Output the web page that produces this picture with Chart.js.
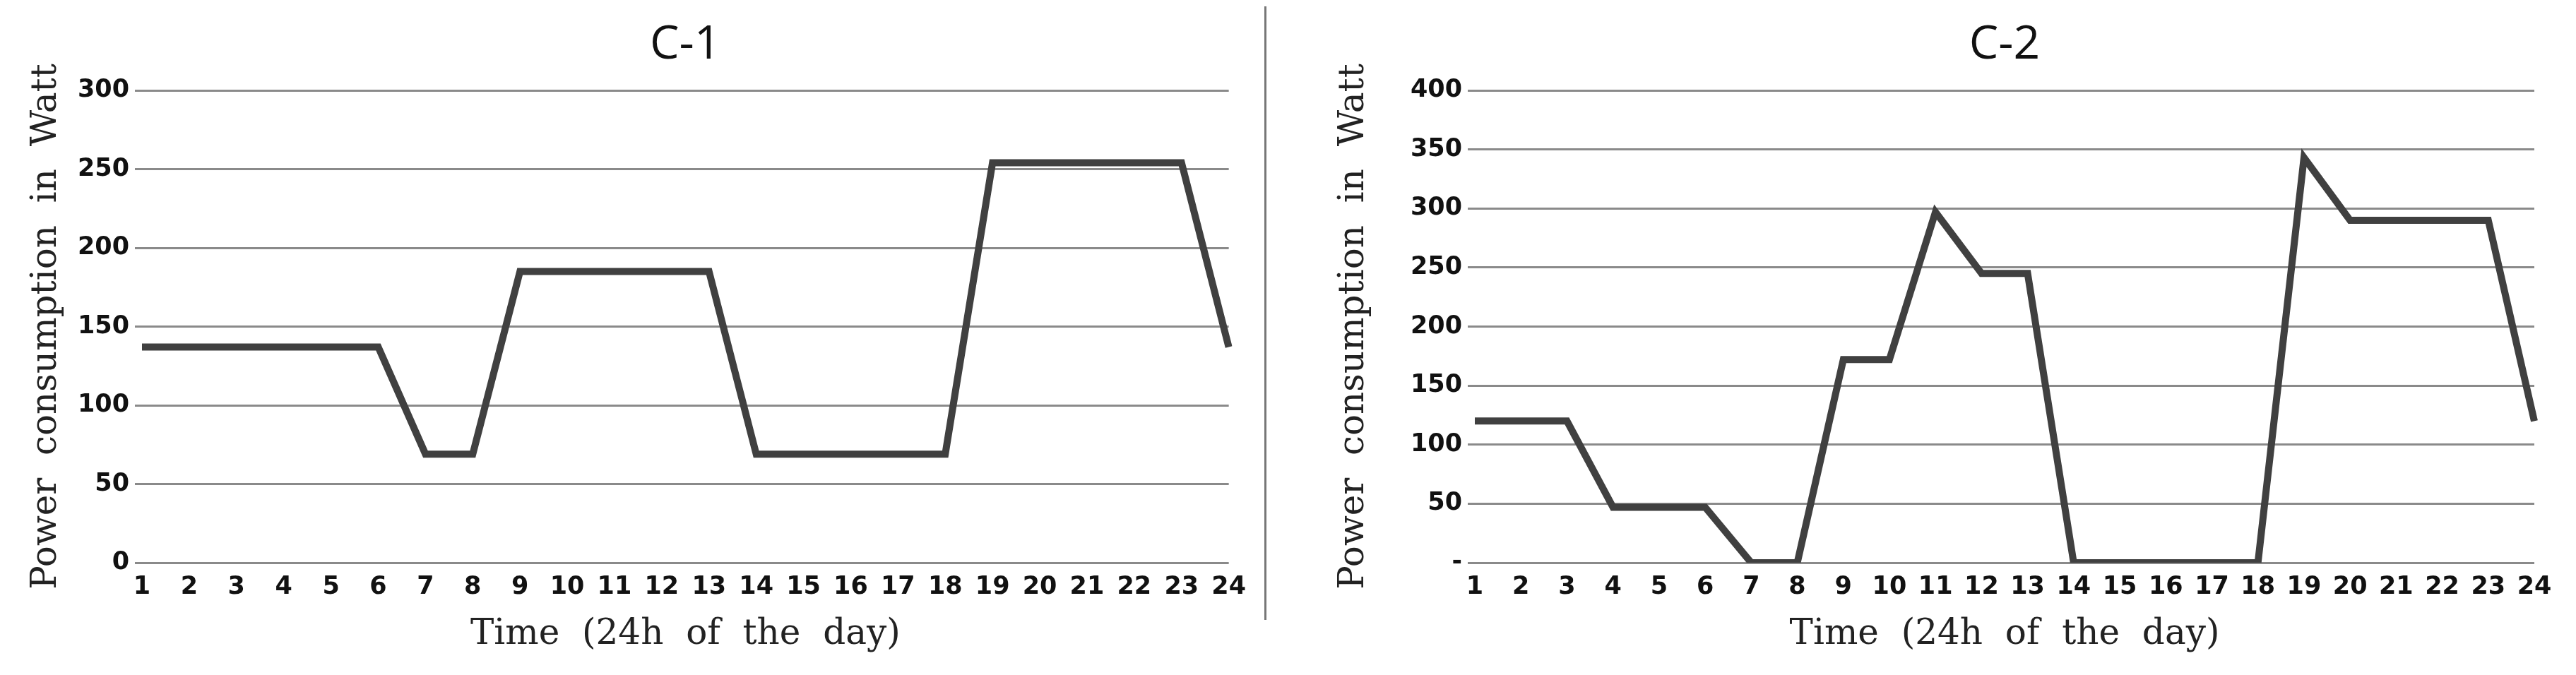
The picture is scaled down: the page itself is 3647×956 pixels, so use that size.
<!DOCTYPE html>
<html><head><meta charset="utf-8">
<script src="https://cdn.jsdelivr.net/npm/chart.js@4"></script>
<style>
body{margin:0;background:#fff;width:3647px;height:956px;position:relative;overflow:hidden}
.c{position:absolute;top:0;height:956px}
#d{position:absolute;left:1790px;top:9px;width:3px;height:869px;background:#777}
</style></head><body>
<div class="c" style="left:0;width:1770px"><canvas id="c1"></canvas></div>
<div id="d"></div>
<div class="c" style="left:1800px;width:1847px"><canvas id="c2"></canvas></div>
<script>
const hours = ['1','2','3','4','5','6','7','8','9','10','11','12','13','14','15','16','17','18','19','20','21','22','23','24'];
const c1Values = [137,137,137,137,137,137,69,69,185,185,185,185,185,69,69,69,69,69,254,254,254,254,254,137];
const c2Values = [120,120,120,47,47,47,0,0,172,172,297,245,245,0,0,0,0,0,343,290,290,290,290,120];
const c1Title = 'C-1', c2Title = 'C-2';
const yTitle = 'Power  consumption  in  Watt';
const xTitle = 'Time  (24h  of  the  day)';

function make(id, values, title, yMax, zeroLabel, yAxisW, padRight, yTitleX){
  const deco = {
    id:'deco',
    afterDraw(ch){
      const c=ch.ctx, a=ch.chartArea;
      c.save();
      c.fillStyle='#111';c.textAlign='center';c.textBaseline='middle';
      c.font='66px "Open Sans", "DejaVu Sans", sans-serif';
      c.fillText(title,(a.left+a.right)/2,64);
      c.fillStyle='#222';
      c.font='50px "DejaVu Serif", serif';
      c.fillText(xTitle,(a.left+a.right)/2,899);
      c.translate(yTitleX,(a.top+a.bottom)/2);c.rotate(-Math.PI/2);
      c.fillText(yTitle,0,0);
      c.restore();
    }
  };
  new Chart(document.getElementById(id),{
    type:'line',
    data:{labels:hours,datasets:[{data:values,borderColor:'#404040',borderWidth:10,pointRadius:0,tension:0,fill:false}]},
    options:{
      responsive:true,maintainAspectRatio:false,animation:false,
      layout:{padding:{top:128,right:padRight,left:0,bottom:0}},
      plugins:{legend:{display:false},tooltip:{enabled:false},title:{display:false}},
      scales:{
        x:{offset:false,grid:{display:false},border:{display:false},
           afterFit(s){s.height=159;},
           ticks:{color:'#111',font:{family:'"DejaVu Sans", sans-serif',weight:'bold',size:35},maxRotation:0,autoSkip:false,padding:6}},
        y:{min:0,max:yMax,grid:{color:'#8a8a8a',lineWidth:3,drawTicks:true,tickLength:10},border:{display:false},
           afterFit(s){s.width=yAxisW;},
           ticks:{stepSize:50,color:'#111',padding:8,font:{family:'"DejaVu Sans", sans-serif',weight:'bold',size:35},
             callback:v=>v===0?zeroLabel:String(v)}}
      }
    },
    plugins:[deco]
  });
}
make('c1',c1Values,c1Title,300,'0',201,23,66);
make('c2',c2Values,c2Title,400,'-',288,59,117);
</script></body></html>
